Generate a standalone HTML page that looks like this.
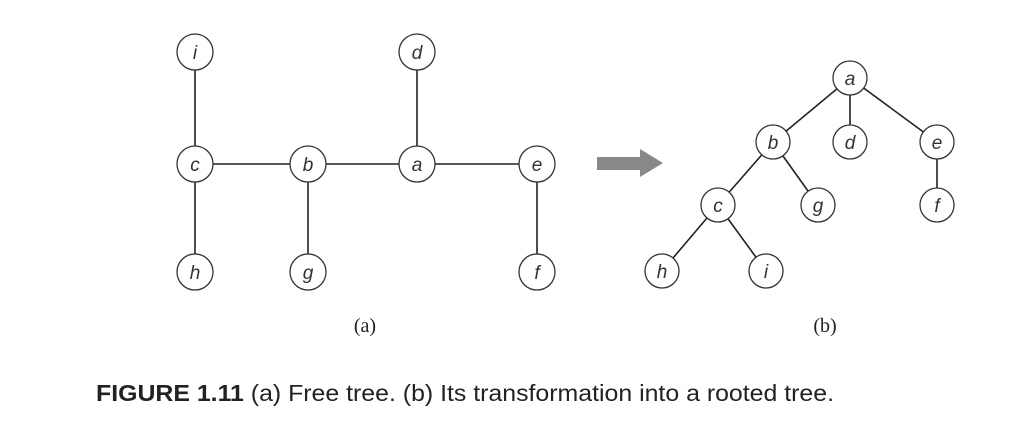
<!DOCTYPE html>
<html><head><style>html,body{margin:0;padding:0;background:#fff;}svg{display:block}</style></head>
<body>
<svg width="1024" height="445" viewBox="0 0 1024 445" xmlns="http://www.w3.org/2000/svg">
<g stroke="#222" stroke-width="1.6" fill="none">
<line x1="195" y1="52" x2="195" y2="272"/>
<line x1="195" y1="164" x2="537" y2="164"/>
<line x1="308" y1="164" x2="308" y2="272"/>
<line x1="417" y1="52" x2="417" y2="164"/>
<line x1="537" y1="164" x2="537" y2="272"/>
<line x1="850" y1="78" x2="773" y2="142"/>
<line x1="850" y1="78" x2="850" y2="142"/>
<line x1="850" y1="78" x2="937" y2="142"/>
<line x1="773" y1="142" x2="718" y2="205"/>
<line x1="773" y1="142" x2="818" y2="205"/>
<line x1="937" y1="142" x2="937" y2="205"/>
<line x1="718" y1="205" x2="662" y2="271"/>
<line x1="718" y1="205" x2="766" y2="271"/>
</g>
<g stroke="#333" stroke-width="1.3" fill="#fff">
<circle cx="195" cy="52" r="18"/><circle cx="417" cy="52" r="18"/>
<circle cx="195" cy="164" r="18"/><circle cx="308" cy="164" r="18"/><circle cx="417" cy="164" r="18"/><circle cx="537" cy="164" r="18"/>
<circle cx="195" cy="272" r="18"/><circle cx="308" cy="272" r="18"/><circle cx="537" cy="272" r="18"/>
<circle cx="850" cy="78" r="17"/><circle cx="773" cy="142" r="17"/><circle cx="850" cy="142" r="17"/><circle cx="937" cy="142" r="17"/>
<circle cx="718" cy="205" r="17"/><circle cx="818" cy="205" r="17"/><circle cx="937" cy="205" r="17"/>
<circle cx="662" cy="271" r="17"/><circle cx="766" cy="271" r="17"/>
</g>
<g font-family="Liberation Sans, sans-serif" font-style="italic" font-size="19" fill="#333" text-anchor="middle">
<text x="195" y="59">i</text><text x="417" y="59">d</text>
<text x="195" y="171">c</text><text x="308" y="171">b</text><text x="417" y="171">a</text><text x="537" y="171">e</text>
<text x="195" y="279">h</text><text x="308" y="279">g</text><text x="537" y="279">f</text>
<text x="850" y="85">a</text><text x="773" y="149">b</text><text x="850" y="149">d</text><text x="937" y="149">e</text>
<text x="718" y="212">c</text><text x="818" y="212">g</text><text x="937" y="212">f</text>
<text x="662" y="278">h</text><text x="766" y="278">i</text>
</g>
<polygon points="597,157 640,157 640,149 663,163 640,177 640,170 597,170" fill="#888"/>
<g font-family="Liberation Serif, serif" font-size="20" fill="#222" text-anchor="middle">
<text x="365" y="332">(a)</text><text x="825" y="332">(b)</text>
</g>
<text x="96" y="401" font-family="Liberation Sans, sans-serif" font-size="23" fill="#222" textLength="738" lengthAdjust="spacingAndGlyphs"><tspan font-weight="bold">FIGURE 1.11</tspan>  (a) Free tree. (b) Its transformation into a rooted tree.</text>
</svg>
</body></html>
